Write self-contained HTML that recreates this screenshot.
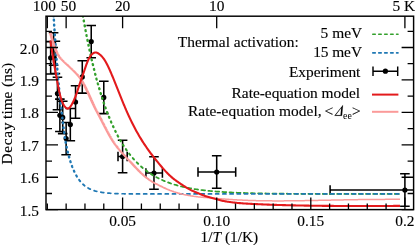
<!DOCTYPE html>
<html><head><meta charset="utf-8"><title>Decay time vs 1/T</title>
<style>html,body{margin:0;padding:0;background:#fff;}body{width:415px;height:245px;overflow:hidden;font-family:"Liberation Serif",serif;}svg{display:block;will-change:transform;}</style></head>
<body>
<svg width="415" height="245" viewBox="0 0 415 245">
<rect width="415" height="245" fill="#fff"/>
<defs><clipPath id="c"><rect x="46" y="16.2" width="367.6" height="193.4"/></clipPath></defs>
<g clip-path="url(#c)" fill="none">
<path d="M50.64 41.6 V74 M45.84 41.6 H55.44 M45.84 74 H55.44 M53.59 32.8 V65.2 M48.79 32.8 H58.39 M48.79 65.2 H58.39 M55.39 41.2 V73.6 M50.59 41.2 H60.19 M50.59 73.6 H60.19 M57.45 77.3 V109.7 M52.65 77.3 H62.25 M52.65 109.7 H62.25 M59.87 99.1 V131.5 M55.07 99.1 H64.67 M55.07 131.5 H64.67 M62.72 101.2 V133.6 M57.92 101.2 H67.52 M57.92 133.6 H67.52 M66.14 122.4 V154.8 M61.34 122.4 H70.94 M61.34 154.8 H70.94 M70.32 108.4 V140.8 M65.52 108.4 H75.12 M65.52 140.8 H75.12 M75.55 85.8 V118.2 M70.75 85.8 H80.35 M70.75 118.2 H80.35 M82.27 60.7 V93.1 M77.47 60.7 H87.07 M77.47 93.1 H87.07 M91.23 25.4 V57.8 M86.43 25.4 H96.03 M86.43 57.8 H96.03 M103.78 81.2 V113.6 M98.98 81.2 H108.58 M98.98 113.6 H108.58 M122.6 140.3 V172.7 M117.8 140.3 H127.4 M117.8 172.7 H127.4 M118 156.5 H127.2 M118 151.7 V161.3 M127.2 151.7 V161.3 M153.97 156.8 V189.2 M149.17 156.8 H158.77 M149.17 189.2 H158.77 M145.9 173 H162.4 M145.9 168.2 V177.8 M162.4 168.2 V177.8 M216.7 155.8 V188.2 M211.9 155.8 H221.5 M211.9 188.2 H221.5 M198 172 H235.7 M198 167.2 V176.8 M235.7 167.2 V176.8 M404.9 173.8 V206.2 M400.1 173.8 H409.7 M400.1 206.2 H409.7 M330.1 190 H430 M330.1 185.2 V194.8 M430 185.2 V194.8" stroke="#000" stroke-width="1.55"/>
<circle cx="50.64" cy="57.8" r="2.6" fill="#000"/>
<circle cx="53.59" cy="49" r="1.4" fill="#000"/>
<circle cx="55.39" cy="57.4" r="1.4" fill="#000"/>
<circle cx="57.45" cy="93.5" r="2.6" fill="#000"/>
<circle cx="59.87" cy="115.3" r="2.6" fill="#000"/>
<circle cx="62.72" cy="117.4" r="2.6" fill="#000"/>
<circle cx="66.14" cy="138.6" r="2.6" fill="#000"/>
<circle cx="70.32" cy="124.6" r="2.6" fill="#000"/>
<circle cx="75.55" cy="102" r="2.6" fill="#000"/>
<circle cx="82.27" cy="76.9" r="2.6" fill="#000"/>
<circle cx="91.23" cy="41.6" r="2.6" fill="#000"/>
<circle cx="103.78" cy="97.4" r="2.6" fill="#000"/>
<circle cx="122.6" cy="156.5" r="2.6" fill="#000"/>
<circle cx="153.97" cy="173" r="2.6" fill="#000"/>
<circle cx="216.7" cy="172" r="2.6" fill="#000"/>
<circle cx="404.9" cy="190" r="2.6" fill="#000"/>
<g stroke-linecap="round">
<path d="M398.75 193.96 L397.65 193.96 L396.35 193.96 L395.05 193.96 L394.75 193.96" stroke="#33a02c" stroke-width="1.7"/>
<path d="M391.55 193.96 L390.49 193.96 L389.19 193.96 L387.89 193.96 L387.55 193.96" stroke="#33a02c" stroke-width="1.7"/>
<path d="M384.35 193.96 L383.33 193.96 L382.03 193.95 L380.73 193.95 L380.35 193.95" stroke="#33a02c" stroke-width="1.7"/>
<path d="M377.15 193.95 L376.18 193.95 L374.88 193.95 L373.57 193.95 L373.15 193.95" stroke="#33a02c" stroke-width="1.7"/>
<path d="M369.95 193.95 L369.02 193.95 L367.72 193.95 L366.42 193.95 L365.95 193.95" stroke="#33a02c" stroke-width="1.7"/>
<path d="M362.75 193.94 L361.86 193.94 L360.56 193.94 L359.26 193.94 L358.75 193.94" stroke="#33a02c" stroke-width="1.7"/>
<path d="M355.55 193.94 L354.71 193.94 L353.41 193.94 L352.1 193.94 L351.56 193.93" stroke="#33a02c" stroke-width="1.7"/>
<path d="M348.35 193.93 L347.55 193.93 L346.25 193.93 L344.95 193.93 L344.36 193.93" stroke="#33a02c" stroke-width="1.7"/>
<path d="M341.16 193.92 L340.39 193.92 L339.09 193.92 L337.79 193.92 L337.16 193.92" stroke="#33a02c" stroke-width="1.7"/>
<path d="M333.96 193.91 L333.24 193.91 L331.93 193.91 L330.63 193.9 L329.96 193.9" stroke="#33a02c" stroke-width="1.7"/>
<path d="M326.76 193.9 L326.08 193.89 L324.78 193.89 L323.48 193.89 L322.77 193.89" stroke="#33a02c" stroke-width="1.7"/>
<path d="M319.56 193.88 L318.27 193.87 L316.97 193.87 L315.67 193.87 L315.57 193.87" stroke="#33a02c" stroke-width="1.7"/>
<path d="M312.37 193.86 L311.11 193.85 L309.81 193.85 L308.51 193.84 L308.38 193.84" stroke="#33a02c" stroke-width="1.7"/>
<path d="M305.17 193.83 L303.96 193.82 L302.66 193.81 L301.36 193.81 L301.19 193.81" stroke="#33a02c" stroke-width="1.7"/>
<path d="M297.98 193.79 L296.8 193.78 L295.5 193.77 L294.2 193.77 L293.99 193.77" stroke="#33a02c" stroke-width="1.7"/>
<path d="M290.79 193.74 L289.64 193.73 L288.34 193.73 L287.04 193.71 L286.81 193.71" stroke="#33a02c" stroke-width="1.7"/>
<path d="M283.6 193.69 L282.49 193.67 L281.19 193.66 L279.88 193.65 L279.62 193.65" stroke="#33a02c" stroke-width="1.7"/>
<path d="M276.41 193.61 L275.33 193.6 L274.03 193.58 L272.73 193.57 L272.44 193.56" stroke="#33a02c" stroke-width="1.7"/>
<path d="M269.23 193.52 L268.17 193.5 L266.87 193.48 L265.57 193.46 L265.27 193.46" stroke="#33a02c" stroke-width="1.7"/>
<path d="M262.05 193.4 L261.02 193.39 L259.72 193.36 L258.41 193.33 L258.1 193.33" stroke="#33a02c" stroke-width="1.71"/>
<path d="M254.87 193.26 L253.86 193.23 L252.56 193.2 L251.26 193.17 L250.94 193.16" stroke="#33a02c" stroke-width="1.71"/>
<path d="M247.71 193.07 L246.7 193.05 L245.4 193.01 L244.1 192.96 L243.79 192.95" stroke="#33a02c" stroke-width="1.71"/>
<path d="M240.55 192.84 L239.55 192.81 L238.24 192.76 L236.94 192.71 L236.65 192.69" stroke="#33a02c" stroke-width="1.71"/>
<path d="M233.41 192.55 L232.39 192.51 L231.09 192.44 L229.79 192.38 L229.54 192.37" stroke="#33a02c" stroke-width="1.71"/>
<path d="M226.28 192.19 L225.23 192.13 L223.93 192.05 L222.63 191.97 L222.44 191.96" stroke="#33a02c" stroke-width="1.72"/>
<path d="M219.18 191.73 L218.08 191.65 L216.77 191.56 L215.47 191.45 L215.38 191.44" stroke="#33a02c" stroke-width="1.72"/>
<path d="M212.1 191.16 L211.57 191.12 L210.92 191.06 L210.27 190.99 L209.62 190.93 L208.97 190.87 L208.35 190.81" stroke="#33a02c" stroke-width="1.73"/>
<path d="M205.06 190.45 L204.41 190.38 L203.76 190.3 L203.11 190.23 L202.46 190.15 L201.81 190.07 L201.38 190.01" stroke="#33a02c" stroke-width="1.73"/>
<path d="M198.07 189.57 L197.26 189.45 L195.95 189.26 L194.65 189.06 L194.48 189.03" stroke="#33a02c" stroke-width="1.74"/>
<path d="M191.15 188.47 L190.75 188.4 L190.1 188.28 L189.45 188.16 L188.8 188.04 L188.15 187.91 L187.68 187.82" stroke="#33a02c" stroke-width="1.75"/>
<path d="M184.32 187.12 L184.24 187.1 L183.59 186.96 L182.94 186.81 L182.29 186.66 L181.64 186.51 L180.99 186.35" stroke="#33a02c" stroke-width="1.76"/>
<path d="M177.62 185.48 L177.09 185.33 L176.44 185.15 L175.78 184.96 L175.13 184.77 L174.48 184.58 L174.45 184.57" stroke="#33a02c" stroke-width="1.77"/>
<path d="M171.08 183.49 L170.58 183.32 L169.93 183.1 L169.28 182.87 L168.63 182.63 L168.11 182.44" stroke="#33a02c" stroke-width="1.79"/>
<path d="M164.75 181.13 L164.72 181.12 L164.07 180.84 L163.42 180.57 L162.77 180.28 L162.12 179.99 L162.03 179.95" stroke="#33a02c" stroke-width="1.81"/>
<path d="M158.69 178.36 L158.22 178.13 L157.57 177.79 L156.92 177.45 L156.27 177.1 L156.26 177.1" stroke="#33a02c" stroke-width="1.84"/>
<path d="M152.98 175.22 L152.36 174.85 L151.71 174.44 L151.06 174.03 L150.83 173.88" stroke="#33a02c" stroke-width="1.87"/>
<path d="M147.65 171.71 L147.16 171.36 L146.51 170.88 L145.86 170.4 L145.78 170.34" stroke="#33a02c" stroke-width="1.9"/>
<path d="M142.71 167.89 L142.6 167.8 L141.95 167.25 L141.3 166.68 L141.09 166.49" stroke="#33a02c" stroke-width="1.92"/>
<path d="M138.16 163.78 L137.81 163.44 L137.43 163.07 L137.06 162.69 L136.75 162.39" stroke="#33a02c" stroke-width="1.95"/>
<path d="M133.96 159.42 L133.74 159.17 L133.43 158.83 L133.13 158.49 L132.83 158.14 L132.79 158.09" stroke="#33a02c" stroke-width="2.01"/>
<path d="M130.17 154.94 L129.96 154.68 L129.73 154.39 L129.51 154.1 L129.28 153.81 L129.19 153.69" stroke="#33a02c" stroke-width="2.08"/>
<path d="M126.73 150.38 L126.56 150.15 L126.34 149.83 L126.11 149.5 L125.91 149.21" stroke="#33a02c" stroke-width="2.14"/>
<path d="M123.61 145.78 L123.47 145.56 L123.32 145.33 L123.17 145.09 L123.02 144.85 L122.91 144.68" stroke="#33a02c" stroke-width="2.19"/>
<path d="M120.76 141.15 L120.68 141.02 L120.53 140.76 L120.38 140.5 L120.22 140.24 L120.15 140.11" stroke="#33a02c" stroke-width="2.23"/>
<path d="M118.13 136.5 L118.04 136.32 L117.88 136.04 L117.73 135.76 L117.6 135.52" stroke="#33a02c" stroke-width="2.26"/>
<path d="M115.7 131.83 L115.62 131.67 L115.47 131.37 L115.32 131.06 L115.24 130.9" stroke="#33a02c" stroke-width="2.29"/>
<path d="M113.44 127.15 L113.36 126.96 L113.2 126.64 L113.05 126.31 L113.03 126.25" stroke="#33a02c" stroke-width="2.31"/>
<path d="M111.33 122.45 L111.32 122.43 L111.24 122.25 L111.17 122.08 L111.09 121.91 L111.02 121.73 L110.95 121.58" stroke="#33a02c" stroke-width="2.33"/>
<path d="M109.34 117.73 L109.28 117.58 L109.2 117.4 L109.13 117.21 L109.05 117.03 L109 116.88" stroke="#33a02c" stroke-width="2.35"/>
<path d="M107.46 112.99 L107.39 112.81 L107.32 112.61 L107.24 112.41 L107.17 112.21 L107.15 112.16" stroke="#33a02c" stroke-width="2.36"/>
<path d="M105.69 108.24 L105.66 108.15 L105.58 107.94 L105.51 107.73 L105.43 107.52 L105.39 107.42" stroke="#33a02c" stroke-width="2.38"/>
<path d="M104 103.47 L104 103.44 L103.92 103.22 L103.85 103 L103.77 102.78 L103.73 102.67" stroke="#33a02c" stroke-width="2.39"/>
<path d="M102.4 98.68 L102.34 98.48 L102.26 98.25 L102.18 98.02 L102.15 97.9" stroke="#33a02c" stroke-width="2.4"/>
<path d="M100.88 93.89 L100.83 93.73 L100.75 93.49 L100.68 93.25 L100.64 93.12" stroke="#33a02c" stroke-width="2.41"/>
<path d="M99.42 89.09 L99.39 89 L99.32 88.75 L99.24 88.49 L99.19 88.33" stroke="#33a02c" stroke-width="2.42"/>
<path d="M98.02 84.28 L97.96 84.05 L97.88 83.78 L97.81 83.52" stroke="#33a02c" stroke-width="2.42"/>
<path d="M96.69 79.46 L96.67 79.42 L96.6 79.14 L96.52 78.87 L96.48 78.71" stroke="#33a02c" stroke-width="2.43"/>
<path d="M95.4 74.64 L95.39 74.6 L95.32 74.31 L95.24 74.02 L95.21 73.9" stroke="#33a02c" stroke-width="2.43"/>
<path d="M94.17 69.81 L94.11 69.57 L94.03 69.27 L93.98 69.08" stroke="#33a02c" stroke-width="2.44"/>
<path d="M92.98 64.97 L92.98 64.96 L92.9 64.65 L92.83 64.33 L92.8 64.25" stroke="#33a02c" stroke-width="2.44"/>
<path d="M91.83 60.14 L91.77 59.85 L91.69 59.53 L91.67 59.41" stroke="#33a02c" stroke-width="2.45"/>
<path d="M90.73 55.29 L90.71 55.22 L90.64 54.88 L90.57 54.58" stroke="#33a02c" stroke-width="2.45"/>
<path d="M89.66 50.45 L89.66 50.43 L89.58 50.08 L89.51 49.73" stroke="#33a02c" stroke-width="2.45"/>
<path d="M88.63 45.6 L88.6 45.47 L88.52 45.11 L88.48 44.89" stroke="#33a02c" stroke-width="2.46"/>
<path d="M87.62 40.74 L87.62 40.71 L87.54 40.34 L87.48 40.04" stroke="#33a02c" stroke-width="2.46"/>
<path d="M86.65 35.89 L86.64 35.8 L86.56 35.41 L86.52 35.19" stroke="#33a02c" stroke-width="2.46"/>
<path d="M85.71 31.03 L85.65 30.73 L85.58 30.33 L85.58 30.33" stroke="#33a02c" stroke-width="2.46"/>
<path d="M84.8 26.17 L84.75 25.9 L84.67 25.5 L84.67 25.47" stroke="#33a02c" stroke-width="2.47"/>
<path d="M83.91 21.31 L83.84 20.94 L83.78 20.61" stroke="#33a02c" stroke-width="2.47"/>
<path d="M83.05 16.44 L83.01 16.26 L82.94 15.83" stroke="#33a02c" stroke-width="2.47"/>
<path d="M398.75 193.97 L398.3 193.97 L397.65 193.97 L397 193.97 L396.35 193.97 L395.7 193.97 L395.65 193.97" stroke="#1f78b4" stroke-width="1.7"/>
<path d="M391.55 193.97 L391.14 193.97 L390.49 193.97 L389.84 193.97 L389.19 193.97 L388.54 193.97 L388.45 193.97" stroke="#1f78b4" stroke-width="1.7"/>
<path d="M384.35 193.97 L383.98 193.97 L383.33 193.97 L382.68 193.97 L382.03 193.97 L381.38 193.97 L381.25 193.97" stroke="#1f78b4" stroke-width="1.7"/>
<path d="M377.15 193.97 L376.83 193.97 L376.18 193.97 L375.53 193.97 L374.88 193.97 L374.23 193.97 L374.05 193.97" stroke="#1f78b4" stroke-width="1.7"/>
<path d="M369.95 193.97 L369.67 193.97 L369.02 193.97 L368.37 193.97 L367.72 193.97 L367.07 193.97 L366.85 193.97" stroke="#1f78b4" stroke-width="1.7"/>
<path d="M362.75 193.97 L362.51 193.97 L361.86 193.97 L361.21 193.97 L360.56 193.97 L359.91 193.97 L359.65 193.97" stroke="#1f78b4" stroke-width="1.7"/>
<path d="M355.55 193.97 L355.36 193.97 L354.71 193.97 L354.06 193.97 L353.41 193.97 L352.75 193.97 L352.45 193.97" stroke="#1f78b4" stroke-width="1.7"/>
<path d="M348.35 193.97 L348.2 193.97 L347.55 193.97 L346.9 193.97 L346.25 193.97 L345.6 193.97 L345.25 193.97" stroke="#1f78b4" stroke-width="1.7"/>
<path d="M341.15 193.97 L341.04 193.97 L340.39 193.97 L339.74 193.97 L339.09 193.97 L338.44 193.97 L338.05 193.97" stroke="#1f78b4" stroke-width="1.7"/>
<path d="M333.95 193.97 L333.89 193.97 L333.24 193.97 L332.59 193.97 L331.93 193.97 L331.28 193.97 L330.85 193.97" stroke="#1f78b4" stroke-width="1.7"/>
<path d="M326.75 193.97 L326.73 193.97 L326.08 193.97 L325.43 193.97 L324.78 193.97 L324.13 193.97 L323.65 193.97" stroke="#1f78b4" stroke-width="1.7"/>
<path d="M319.55 193.97 L318.92 193.97 L318.27 193.97 L317.62 193.97 L316.97 193.97 L316.45 193.97" stroke="#1f78b4" stroke-width="1.7"/>
<path d="M312.35 193.97 L311.77 193.97 L311.11 193.97 L310.46 193.97 L309.81 193.97 L309.25 193.97" stroke="#1f78b4" stroke-width="1.7"/>
<path d="M305.15 193.97 L304.61 193.97 L303.96 193.97 L303.31 193.97 L302.66 193.97 L302.05 193.97" stroke="#1f78b4" stroke-width="1.7"/>
<path d="M297.95 193.97 L297.45 193.97 L296.8 193.97 L296.15 193.97 L295.5 193.97 L294.85 193.97" stroke="#1f78b4" stroke-width="1.7"/>
<path d="M290.75 193.97 L290.29 193.97 L289.64 193.97 L288.99 193.97 L288.34 193.97 L287.69 193.97 L287.65 193.97" stroke="#1f78b4" stroke-width="1.7"/>
<path d="M283.55 193.97 L283.14 193.97 L282.49 193.97 L281.84 193.97 L281.19 193.97 L280.54 193.97 L280.45 193.97" stroke="#1f78b4" stroke-width="1.7"/>
<path d="M276.35 193.97 L275.98 193.97 L275.33 193.97 L274.68 193.97 L274.03 193.97 L273.38 193.97 L273.25 193.97" stroke="#1f78b4" stroke-width="1.7"/>
<path d="M269.15 193.97 L268.82 193.97 L268.17 193.97 L267.52 193.97 L266.87 193.97 L266.22 193.97 L266.05 193.97" stroke="#1f78b4" stroke-width="1.7"/>
<path d="M261.95 193.97 L261.67 193.97 L261.02 193.97 L260.37 193.97 L259.72 193.97 L259.06 193.97 L258.85 193.97" stroke="#1f78b4" stroke-width="1.7"/>
<path d="M254.75 193.97 L254.51 193.97 L253.86 193.97 L253.21 193.97 L252.56 193.97 L251.91 193.97 L251.65 193.97" stroke="#1f78b4" stroke-width="1.7"/>
<path d="M247.55 193.97 L247.35 193.97 L246.7 193.97 L246.05 193.97 L245.4 193.97 L244.75 193.97 L244.45 193.97" stroke="#1f78b4" stroke-width="1.7"/>
<path d="M240.35 193.97 L240.2 193.97 L239.55 193.97 L238.9 193.97 L238.24 193.97 L237.59 193.97 L237.25 193.97" stroke="#1f78b4" stroke-width="1.7"/>
<path d="M233.15 193.97 L233.04 193.97 L232.39 193.97 L231.74 193.97 L231.09 193.97 L230.44 193.97 L230.05 193.97" stroke="#1f78b4" stroke-width="1.7"/>
<path d="M225.95 193.97 L225.88 193.97 L225.23 193.97 L224.58 193.97 L223.93 193.97 L223.28 193.97 L222.85 193.97" stroke="#1f78b4" stroke-width="1.7"/>
<path d="M218.75 193.97 L218.73 193.97 L218.08 193.97 L217.42 193.97 L216.77 193.97 L216.12 193.97 L215.65 193.97" stroke="#1f78b4" stroke-width="1.7"/>
<path d="M211.55 193.97 L210.92 193.97 L210.27 193.97 L209.62 193.97 L208.97 193.97 L208.45 193.97" stroke="#1f78b4" stroke-width="1.7"/>
<path d="M204.35 193.97 L203.76 193.97 L203.11 193.97 L202.46 193.97 L201.81 193.97 L201.25 193.97" stroke="#1f78b4" stroke-width="1.7"/>
<path d="M197.15 193.97 L196.6 193.97 L195.95 193.97 L195.3 193.97 L194.65 193.97 L194.05 193.97" stroke="#1f78b4" stroke-width="1.7"/>
<path d="M189.95 193.97 L189.45 193.97 L188.8 193.97 L188.15 193.97 L187.5 193.97 L186.85 193.97" stroke="#1f78b4" stroke-width="1.7"/>
<path d="M182.75 193.97 L182.29 193.97 L181.64 193.97 L180.99 193.97 L180.34 193.97 L179.69 193.97 L179.65 193.97" stroke="#1f78b4" stroke-width="1.7"/>
<path d="M175.55 193.97 L175.13 193.97 L174.48 193.97 L173.83 193.97 L173.18 193.96 L172.53 193.96 L172.45 193.96" stroke="#1f78b4" stroke-width="1.7"/>
<path d="M168.35 193.96 L167.98 193.96 L167.33 193.96 L166.68 193.96 L166.03 193.96 L165.37 193.96 L165.25 193.96" stroke="#1f78b4" stroke-width="1.7"/>
<path d="M161.15 193.96 L160.82 193.96 L160.17 193.96 L159.52 193.96 L158.87 193.96 L158.22 193.96 L158.05 193.96" stroke="#1f78b4" stroke-width="1.7"/>
<path d="M153.95 193.96 L153.66 193.96 L153.01 193.96 L152.36 193.95 L151.71 193.95 L151.06 193.95 L150.85 193.95" stroke="#1f78b4" stroke-width="1.7"/>
<path d="M146.75 193.95 L146.51 193.95 L145.86 193.94 L145.21 193.94 L144.55 193.94 L143.9 193.94 L143.66 193.94" stroke="#1f78b4" stroke-width="1.7"/>
<path d="M139.56 193.92 L138.87 193.92 L138.11 193.92 L137.36 193.91 L136.6 193.91 L136.46 193.91" stroke="#1f78b4" stroke-width="1.7"/>
<path d="M132.36 193.88 L131.62 193.88 L130.87 193.87 L130.11 193.86 L129.36 193.85 L129.27 193.85" stroke="#1f78b4" stroke-width="1.7"/>
<path d="M125.17 193.8 L124.45 193.79 L123.7 193.77 L122.94 193.76 L122.19 193.74 L122.09 193.74" stroke="#1f78b4" stroke-width="1.7"/>
<path d="M117.99 193.63 L117.28 193.61 L116.53 193.58 L115.77 193.55 L115.02 193.52 L114.94 193.52" stroke="#1f78b4" stroke-width="1.71"/>
<path d="M110.84 193.3 L110.11 193.25 L109.36 193.2 L108.6 193.14 L107.85 193.08 L107.83 193.08" stroke="#1f78b4" stroke-width="1.72"/>
<path d="M103.75 192.65 L103.02 192.55 L102.26 192.45 L101.51 192.33 L100.84 192.23" stroke="#1f78b4" stroke-width="1.73"/>
<path d="M96.81 191.4 L96.15 191.23 L95.47 191.05 L94.79 190.85 L94.13 190.65" stroke="#1f78b4" stroke-width="1.76"/>
<path d="M90.29 189.16 L89.73 188.9 L89.13 188.6 L88.52 188.27 L88.05 188.01" stroke="#1f78b4" stroke-width="1.82"/>
<path d="M84.63 185.69 L84.22 185.36 L83.77 184.97 L83.31 184.57 L83.01 184.29" stroke="#1f78b4" stroke-width="1.91"/>
<path d="M80.19 181.27 L79.92 180.94 L79.62 180.56 L79.31 180.16 L79.15 179.94" stroke="#1f78b4" stroke-width="2.05"/>
<path d="M76.85 176.48 L76.75 176.3 L76.6 176.04 L76.45 175.78 L76.3 175.51 L76.23 175.4" stroke="#1f78b4" stroke-width="2.21"/>
<path d="M74.33 171.68 L74.26 171.52 L74.11 171.19 L73.96 170.86 L73.92 170.77" stroke="#1f78b4" stroke-width="2.3"/>
<path d="M72.32 166.91 L72.29 166.86 L72.22 166.66 L72.14 166.46 L72.07 166.26 L72 166.07" stroke="#1f78b4" stroke-width="2.36"/>
<path d="M70.62 162.11 L70.56 161.93 L70.48 161.7 L70.41 161.46 L70.36 161.32" stroke="#1f78b4" stroke-width="2.4"/>
<path d="M69.15 157.29 L69.12 157.19 L69.05 156.92 L68.97 156.65 L68.94 156.53" stroke="#1f78b4" stroke-width="2.42"/>
<path d="M67.86 152.45 L67.84 152.36 L67.77 152.06 L67.69 151.75 L67.68 151.71" stroke="#1f78b4" stroke-width="2.44"/>
<path d="M66.72 147.59 L66.72 147.58 L66.65 147.24 L66.57 146.9 L66.57 146.88" stroke="#1f78b4" stroke-width="2.45"/>
<path d="M65.75 142.72 L65.73 142.61 L65.67 142.24 L65.63 142.02" stroke="#1f78b4" stroke-width="2.47"/>
<path d="M64.93 137.85 L64.88 137.53 L64.82 137.16" stroke="#1f78b4" stroke-width="2.47"/>
<path d="M64.21 132.96 L64.2 132.84 L64.14 132.39 L64.12 132.29" stroke="#1f78b4" stroke-width="2.48"/>
<path d="M63.58 128.08 L63.54 127.76 L63.49 127.41" stroke="#1f78b4" stroke-width="2.48"/>
<path d="M62.99 123.19 L62.94 122.77 L62.91 122.52" stroke="#1f78b4" stroke-width="2.49"/>
<path d="M62.42 118.31 L62.38 117.97 L62.35 117.64" stroke="#1f78b4" stroke-width="2.49"/>
<path d="M61.85 113.42 L61.85 113.42 L61.78 112.84 L61.77 112.76" stroke="#1f78b4" stroke-width="2.49"/>
<path d="M61.26 108.54 L61.19 107.98 L61.18 107.87" stroke="#1f78b4" stroke-width="2.49"/>
<path d="M60.68 103.66 L60.67 103.5 L60.61 102.99" stroke="#1f78b4" stroke-width="2.49"/>
<path d="M60.14 98.77 L60.06 98.11" stroke="#1f78b4" stroke-width="2.49"/>
<path d="M59.61 93.88 L59.61 93.83 L59.55 93.22" stroke="#1f78b4" stroke-width="2.49"/>
<path d="M59.12 89 L59.08 88.61 L59.05 88.33" stroke="#1f78b4" stroke-width="2.49"/>
<path d="M58.65 84.11 L58.63 83.91 L58.58 83.44" stroke="#1f78b4" stroke-width="2.49"/>
<path d="M58.19 79.22 L58.17 79.02 L58.13 78.55" stroke="#1f78b4" stroke-width="2.49"/>
<path d="M57.76 74.32 L57.72 73.9 L57.7 73.66" stroke="#1f78b4" stroke-width="2.49"/>
<path d="M57.34 69.43 L57.29 68.77" stroke="#1f78b4" stroke-width="2.49"/>
<path d="M56.94 64.54 L56.89 63.92 L56.89 63.88" stroke="#1f78b4" stroke-width="2.49"/>
<path d="M56.56 59.65 L56.51 59.11 L56.5 58.99" stroke="#1f78b4" stroke-width="2.49"/>
<path d="M56.18 54.75 L56.14 54.13 L56.13 54.09" stroke="#1f78b4" stroke-width="2.49"/>
<path d="M55.82 49.86 L55.78 49.2" stroke="#1f78b4" stroke-width="2.49"/>
<path d="M55.48 44.96 L55.46 44.68 L55.43 44.31" stroke="#1f78b4" stroke-width="2.5"/>
<path d="M55.14 40.07 L55.1 39.41" stroke="#1f78b4" stroke-width="2.5"/>
<path d="M54.82 35.17 L54.78 34.61 L54.77 34.52" stroke="#1f78b4" stroke-width="2.5"/>
<path d="M54.5 30.28 L54.48 29.91 L54.46 29.62" stroke="#1f78b4" stroke-width="2.5"/>
<path d="M54.19 25.38 L54.17 25.08 L54.15 24.73" stroke="#1f78b4" stroke-width="2.5"/>
<path d="M53.9 20.49 L53.87 20.1 L53.86 19.83" stroke="#1f78b4" stroke-width="2.5"/>
<path d="M53.65 16.27 L53.65 16.27" stroke="#1f78b4" stroke-width="2.5"/>
</g>
<g transform="scale(1.9 1)"><path d="M26.47 32.8 L26.58 33.54 L26.68 34.28 L26.79 35.01 L26.89 35.74 L27 36.47 L27.1 37.19 L27.21 37.9 L27.31 38.61 L27.42 39.31 L27.52 39.99 L27.63 40.67 L27.74 41.33 L27.84 41.98 L27.95 42.62 L28.05 43.24 L28.16 43.86 L28.26 44.46 L28.37 45.05 L28.47 45.62 L28.58 46.19 L28.68 46.74 L28.79 47.27 L28.89 47.8 L29 48.31 L29.1 48.81 L29.21 49.3 L29.31 49.78 L29.42 50.25 L29.52 50.7 L29.63 51.15 L29.73 51.58 L29.84 52.01 L29.94 52.42 L30.05 52.82 L30.15 53.22 L30.26 53.6 L30.36 53.97 L30.47 54.33 L30.57 54.68 L30.68 55.02 L30.78 55.35 L30.89 55.67 L30.99 55.98 L31.1 56.28 L31.2 56.57 L31.31 56.85 L31.41 57.12 L31.52 57.39 L31.63 57.64 L31.73 57.89 L31.84 58.13 L31.94 58.36 L32.05 58.59 L32.15 58.82 L32.26 59.04 L32.36 59.26 L32.47 59.47 L32.57 59.68 L32.68 59.89 L32.78 60.1 L32.89 60.3 L32.99 60.5 L33.1 60.7 L33.2 60.9 L33.31 61.1 L33.41 61.3 L33.52 61.5 L33.62 61.69 L33.73 61.88 L33.83 62.08 L33.94 62.27 L34.04 62.46 L34.15 62.65 L34.25 62.84 L34.36 63.03 L34.46 63.21 L34.57 63.4 L34.67 63.59 L34.78 63.77 L34.88 63.96 L34.99 64.15 L35.09 64.33 L35.2 64.52 L35.3 64.7 L35.41 64.89 L35.51 65.07 L35.62 65.26 L35.73 65.44 L35.83 65.63 L35.94 65.81 L36.04 65.99 L36.15 66.18 L36.25 66.36 L36.36 66.55 L36.46 66.73 L36.57 66.92 L36.67 67.1 L36.78 67.28 L36.88 67.47 L36.99 67.65 L37.09 67.84 L37.2 68.03 L37.3 68.21 L37.41 68.4 L37.51 68.58 L37.62 68.77 L37.72 68.96 L37.83 69.15 L37.93 69.34 L38.04 69.53 L38.14 69.72 L38.25 69.91 L38.35 70.1 L38.46 70.29 L38.56 70.48 L38.67 70.68 L38.77 70.88 L38.88 71.07 L38.98 71.27 L39.09 71.47 L39.19 71.67 L39.3 71.87 L39.4 72.07 L39.51 72.28 L39.62 72.48 L39.72 72.69 L39.83 72.9 L39.93 73.11 L40.04 73.32 L40.14 73.54 L40.25 73.75 L40.35 73.97 L40.46 74.19 L40.56 74.41 L40.67 74.64 L40.77 74.86 L40.88 75.09 L40.98 75.32 L41.09 75.55 L41.19 75.79 L41.3 76.03 L41.4 76.27 L41.51 76.52 L41.61 76.77 L41.72 77.02 L41.82 77.28 L41.93 77.55 L42.03 77.81 L42.14 78.09 L42.24 78.36 L42.35 78.65 L42.45 78.94 L42.56 79.23 L42.66 79.53 L42.77 79.83 L42.87 80.14 L42.98 80.46 L43.08 80.78 L43.19 81.1 L43.29 81.43 L43.4 81.77 L43.5 82.11 L43.61 82.46 L43.72 82.81 L43.82 83.17 L43.93 83.53 L44.03 83.89 L44.14 84.27 L44.24 84.64 L44.35 85.02 L44.45 85.4 L44.56 85.79 L44.66 86.18 L44.77 86.58 L44.87 86.97 L44.98 87.38 L45.08 87.78 L45.19 88.19 L45.29 88.6 L45.4 89.01 L45.5 89.43 L45.61 89.85 L45.71 90.27 L45.82 90.69 L45.92 91.12 L46.03 91.54 L46.13 91.97 L46.24 92.4 L46.34 92.84 L46.45 93.27 L46.55 93.7 L46.66 94.14 L46.76 94.58 L46.87 95.02 L46.97 95.45 L47.08 95.89 L47.18 96.33 L47.29 96.77 L47.39 97.21 L47.5 97.65 L47.61 98.09 L47.71 98.53 L47.82 98.97 L47.92 99.41 L48.03 99.84 L48.13 100.28 L48.24 100.72 L48.34 101.15 L48.45 101.59 L48.55 102.02 L48.66 102.45 L48.76 102.88 L48.87 103.31 L48.97 103.74 L49.08 104.16 L49.18 104.59 L49.29 105.01 L49.39 105.43 L49.5 105.84 L49.6 106.26 L49.71 106.67 L49.81 107.08 L49.92 107.49 L50.02 107.89 L50.13 108.29 L50.23 108.69 L50.34 109.08 L50.44 109.48 L50.55 109.87 L50.65 110.25 L50.76 110.63 L50.86 111.02 L50.97 111.4 L51.07 111.77 L51.18 112.15 L51.28 112.52 L51.39 112.9 L51.49 113.27 L51.6 113.64 L51.71 114.02 L51.81 114.39 L51.92 114.76 L52.02 115.13 L52.13 115.51 L52.23 115.88 L52.34 116.26 L52.44 116.64 L52.55 117.02 L52.65 117.4 L52.76 117.78 L52.86 118.16 L52.97 118.55 L53.07 118.93 L53.18 119.32 L53.28 119.7 L53.39 120.09 L53.49 120.48 L53.6 120.86 L53.7 121.25 L53.81 121.64 L53.91 122.03 L54.02 122.42 L54.12 122.81 L54.23 123.2 L54.33 123.59 L54.44 123.98 L54.54 124.37 L54.65 124.76 L54.75 125.15 L54.86 125.53 L54.96 125.92 L55.07 126.31 L55.17 126.7 L55.28 127.09 L55.38 127.47 L55.49 127.86 L55.6 128.24 L55.7 128.63 L55.81 129.01 L55.91 129.39 L56.02 129.77 L56.12 130.15 L56.23 130.53 L56.33 130.91 L56.44 131.28 L56.54 131.66 L56.65 132.03 L56.75 132.4 L56.86 132.77 L56.96 133.14 L57.07 133.51 L57.17 133.87 L57.28 134.24 L57.38 134.6 L57.49 134.95 L57.59 135.31 L57.7 135.66 L57.8 136.02 L57.91 136.37 L58.01 136.71 L58.12 137.06 L58.22 137.4 L58.33 137.74 L58.43 138.08 L58.54 138.41 L58.64 138.74 L58.75 139.07 L58.85 139.39 L58.96 139.72 L59.06 140.04 L59.17 140.35 L59.27 140.66 L59.38 140.97 L59.48 141.28 L59.59 141.58 L59.7 141.88 L59.8 142.18 L59.91 142.48 L60.01 142.77 L60.12 143.06 L60.22 143.35 L60.33 143.63 L60.43 143.91 L60.54 144.19 L60.64 144.47 L60.75 144.74 L60.85 145.01 L60.96 145.28 L61.06 145.55 L61.17 145.81 L61.27 146.07 L61.38 146.34 L61.48 146.59 L61.59 146.85 L61.69 147.1 L61.8 147.36 L61.9 147.61 L62.01 147.85 L62.11 148.1 L62.22 148.35 L62.32 148.59 L62.43 148.83 L62.53 149.07 L62.64 149.31 L62.74 149.55 L62.85 149.78 L62.95 150.02 L63.06 150.25 L63.16 150.48 L63.27 150.71 L63.37 150.94 L63.48 151.17 L63.59 151.39 L63.69 151.62 L63.8 151.84 L63.9 152.07 L64.01 152.29 L64.11 152.51 L64.22 152.73 L64.32 152.96 L64.43 153.17 L64.53 153.39 L64.64 153.61 L64.74 153.83 L64.85 154.05 L64.95 154.26 L65.06 154.48 L65.16 154.7 L65.27 154.91 L65.37 155.13 L65.48 155.34 L65.58 155.56 L65.69 155.77 L65.79 155.99 L65.9 156.2 L66 156.42 L66.11 156.63 L66.21 156.85 L66.32 157.06 L66.42 157.28 L66.53 157.5 L66.63 157.71 L66.74 157.93 L66.84 158.15 L66.95 158.36 L67.05 158.58 L67.16 158.8 L67.26 159.02 L67.37 159.24 L67.47 159.45 L67.58 159.67 L67.69 159.89 L67.79 160.11 L67.9 160.33 L68 160.55 L68.11 160.77 L68.21 160.99 L68.32 161.21 L68.42 161.43 L68.9 162.42 L69.37 163.41 L69.85 164.4 L70.32 165.38 L70.8 166.35 L71.27 167.31 L71.75 168.27 L72.22 169.21 L72.7 170.13 L73.17 171.04 L73.65 171.93 L74.12 172.81 L74.6 173.65 L75.07 174.48 L75.55 175.29 L76.03 176.07 L76.5 176.82 L76.98 177.55 L77.45 178.26 L77.93 178.94 L78.4 179.59 L78.88 180.21 L79.35 180.8 L79.83 181.37 L80.3 181.91 L80.78 182.43 L81.25 182.93 L81.73 183.42 L82.2 183.89 L82.68 184.35 L83.15 184.81 L83.63 185.25 L84.1 185.7 L84.58 186.15 L85.06 186.59 L85.53 187.04 L86.01 187.47 L86.48 187.9 L86.96 188.33 L87.43 188.74 L87.91 189.14 L88.38 189.52 L88.86 189.89 L89.33 190.25 L89.81 190.59 L90.28 190.92 L90.76 191.24 L91.23 191.55 L91.71 191.85 L92.18 192.15 L92.66 192.43 L93.14 192.71 L93.61 192.98 L94.09 193.24 L94.56 193.5 L95.04 193.74 L95.51 193.97 L95.99 194.19 L96.46 194.4 L96.94 194.6 L97.41 194.79 L97.89 194.97 L98.36 195.15 L98.84 195.31 L99.31 195.48 L99.79 195.63 L100.26 195.79 L100.74 195.94 L101.21 196.08 L101.69 196.22 L102.17 196.35 L102.64 196.47 L103.12 196.59 L103.59 196.7 L104.07 196.81 L104.54 196.9 L105.02 196.99 L105.49 197.08 L105.97 197.16 L106.44 197.24 L106.92 197.32 L107.39 197.4 L107.87 197.47 L108.34 197.55 L108.82 197.63 L109.29 197.71 L109.77 197.79 L110.24 197.86 L110.72 197.94 L111.2 198.02 L111.67 198.1 L112.15 198.17 L112.62 198.25 L113.1 198.33 L113.57 198.4 L114.05 198.47 L114.52 198.55 L115 198.62 L115.47 198.69 L115.95 198.76 L116.42 198.83 L116.9 198.9 L117.37 198.96 L117.85 199.03 L118.32 199.09 L118.8 199.16 L119.27 199.22 L119.75 199.28 L120.23 199.34 L120.7 199.4 L121.18 199.46 L121.65 199.52 L122.13 199.57 L122.6 199.63 L123.08 199.68 L123.55 199.73 L124.03 199.78 L124.5 199.83 L124.98 199.88 L125.45 199.93 L125.93 199.98 L126.4 200.02 L126.88 200.07 L127.35 200.11 L127.83 200.15 L128.3 200.19 L128.78 200.23 L129.26 200.27 L129.73 200.31 L130.21 200.34 L130.68 200.38 L131.16 200.41 L131.63 200.44 L132.11 200.48 L132.58 200.51 L133.06 200.54 L133.53 200.56 L134.01 200.59 L134.48 200.61 L134.96 200.64 L135.43 200.66 L135.91 200.68 L136.38 200.7 L136.86 200.72 L137.33 200.74 L137.81 200.76 L138.29 200.77 L138.76 200.79 L139.24 200.8 L139.71 200.81 L140.19 200.83 L140.66 200.84 L141.14 200.85 L141.61 200.85 L142.09 200.86 L142.56 200.87 L143.04 200.87 L143.51 200.88 L143.99 200.88 L144.46 200.89 L144.94 200.89 L145.41 200.89 L145.89 200.89 L146.37 200.89 L146.84 200.89 L147.32 200.89 L147.79 200.89 L148.27 200.88 L148.74 200.88 L149.22 200.88 L149.69 200.87 L150.17 200.87 L150.64 200.86 L151.12 200.85 L151.59 200.84 L152.07 200.84 L152.54 200.83 L153.02 200.82 L153.49 200.81 L153.97 200.8 L154.44 200.79 L154.92 200.78 L155.4 200.77 L155.87 200.75 L156.35 200.74 L156.82 200.73 L157.3 200.72 L157.77 200.7 L158.25 200.69 L158.72 200.68 L159.2 200.66 L159.67 200.65 L160.15 200.63 L160.62 200.62 L161.1 200.6 L161.57 200.59 L162.05 200.57 L162.52 200.55 L163 200.54 L163.47 200.52 L163.95 200.51 L164.43 200.49 L164.9 200.47 L165.38 200.45 L165.85 200.44 L166.33 200.42 L166.8 200.4 L167.28 200.38 L167.75 200.37 L168.23 200.35 L168.7 200.33 L169.18 200.31 L169.65 200.29 L170.13 200.28 L170.6 200.26 L171.08 200.24 L171.55 200.22 L172.03 200.2 L172.5 200.18 L172.98 200.17 L173.46 200.15 L173.93 200.13 L174.41 200.11 L174.88 200.09 L175.36 200.07 L175.83 200.06 L176.31 200.04 L176.78 200.02 L177.26 200 L177.73 199.98 L178.21 199.96 L178.68 199.95 L179.16 199.93 L179.63 199.91 L180.11 199.9 L180.58 199.88 L181.06 199.86 L181.53 199.84 L182.01 199.83 L182.49 199.81 L182.96 199.8 L183.44 199.78 L183.91 199.76 L184.39 199.75 L184.86 199.73 L185.34 199.72 L185.81 199.7 L186.29 199.69 L186.76 199.67 L187.24 199.66 L187.71 199.65 L188.19 199.63 L188.66 199.62 L189.14 199.61 L189.61 199.6 L190.09 199.58 L190.57 199.57 L191.04 199.56 L191.52 199.55 L191.99 199.54 L192.47 199.53 L192.94 199.52 L193.42 199.51 L193.89 199.5 L194.37 199.49 L194.84 199.48 L195.32 199.48 L195.79 199.47 L196.27 199.46 L196.74 199.45 L197.22 199.44 L197.69 199.44 L198.17 199.43 L198.64 199.42 L199.12 199.42 L199.6 199.41 L200.07 199.4 L200.55 199.4 L201.02 199.39 L201.5 199.39 L201.97 199.38 L202.45 199.38 L202.92 199.37 L203.4 199.37 L203.87 199.36 L204.35 199.36 L204.82 199.35 L205.3 199.35 L205.77 199.34 L206.25 199.34 L206.72 199.33 L207.2 199.33 L207.67 199.32 L208.15 199.32 L208.63 199.32 L209.1 199.31 L209.58 199.31 L210.05 199.3 L210.53 199.3" stroke="#fb9a99" stroke-width="1.5" stroke-linejoin="round"/></g>
<path d="M50.3 40.5 L50.5 41.72 L50.7 42.93 L50.9 44.16 L51.1 45.38 L51.3 46.62 L51.5 47.86 L51.7 49.12 L51.9 50.39 L52.1 51.66 L52.3 52.93 L52.5 54.21 L52.7 55.48 L52.9 56.73 L53.1 57.98 L53.3 59.2 L53.5 60.41 L53.7 61.61 L53.9 62.79 L54.1 63.96 L54.29 65.11 L54.49 66.26 L54.69 67.4 L54.89 68.53 L55.09 69.66 L55.29 70.78 L55.49 71.9 L55.69 73.01 L55.89 74.12 L56.09 75.22 L56.29 76.32 L56.49 77.41 L56.69 78.5 L56.89 79.59 L57.09 80.67 L57.29 81.74 L57.49 82.81 L57.69 83.86 L57.89 84.9 L58.09 85.93 L58.29 86.95 L58.49 87.95 L58.69 88.93 L58.89 89.9 L59.09 90.84 L59.29 91.76 L59.49 92.65 L59.69 93.52 L59.89 94.36 L60.09 95.17 L60.29 95.95 L60.49 96.7 L60.69 97.41 L60.89 98.09 L61.09 98.74 L61.29 99.36 L61.49 99.95 L61.69 100.52 L61.89 101.05 L62.09 101.57 L62.28 102.05 L62.48 102.52 L62.68 102.96 L62.88 103.38 L63.08 103.78 L63.28 104.16 L63.48 104.52 L63.68 104.86 L63.88 105.19 L64.08 105.5 L64.28 105.79 L64.48 106.08 L64.68 106.34 L64.88 106.59 L65.08 106.83 L65.28 107.06 L65.48 107.28 L65.68 107.49 L65.88 107.68 L66.08 107.86 L66.28 108.03 L66.48 108.18 L66.68 108.3 L66.88 108.41 L67.08 108.5 L67.28 108.56 L67.48 108.6 L67.68 108.61 L67.88 108.59 L68.08 108.55 L68.28 108.48 L68.48 108.39 L68.68 108.27 L68.88 108.14 L69.08 107.99 L69.28 107.82 L69.48 107.63 L69.68 107.42 L69.88 107.2 L70.08 106.96 L70.27 106.71 L70.47 106.45 L70.67 106.17 L70.87 105.89 L71.07 105.58 L71.27 105.27 L71.47 104.95 L71.67 104.61 L71.87 104.27 L72.07 103.91 L72.27 103.55 L72.47 103.18 L72.67 102.8 L72.87 102.41 L73.07 102.01 L73.27 101.61 L73.47 101.19 L73.67 100.77 L73.87 100.33 L74.07 99.89 L74.27 99.44 L74.47 98.98 L74.67 98.51 L74.87 98.02 L75.07 97.53 L75.27 97.03 L75.47 96.52 L75.67 96 L75.87 95.47 L76.07 94.93 L76.27 94.37 L76.47 93.81 L76.67 93.24 L76.87 92.65 L77.07 92.06 L77.27 91.46 L77.47 90.86 L77.67 90.24 L77.87 89.63 L78.07 89.01 L78.26 88.38 L78.46 87.76 L78.66 87.13 L78.86 86.51 L79.06 85.88 L79.26 85.26 L79.46 84.64 L79.66 84.03 L79.86 83.42 L80.06 82.81 L80.26 82.21 L80.46 81.62 L80.66 81.03 L80.86 80.45 L81.06 79.87 L81.26 79.29 L81.46 78.72 L81.66 78.15 L81.86 77.58 L82.06 77.02 L82.26 76.45 L82.46 75.89 L82.66 75.32 L82.86 74.76 L83.06 74.19 L83.26 73.63 L83.46 73.06 L83.66 72.49 L83.86 71.91 L84.06 71.33 L84.26 70.75 L84.46 70.17 L84.66 69.58 L84.86 68.99 L85.06 68.41 L85.26 67.82 L85.46 67.24 L85.66 66.66 L85.86 66.09 L86.06 65.52 L86.25 64.96 L86.45 64.41 L86.65 63.87 L86.85 63.34 L87.05 62.82 L87.25 62.31 L87.45 61.81 L87.65 61.33 L87.85 60.87 L88.05 60.42 L88.25 59.98 L88.45 59.56 L88.65 59.15 L88.85 58.75 L89.05 58.37 L89.25 58 L89.45 57.65 L89.65 57.31 L89.85 56.98 L90.05 56.66 L90.25 56.36 L90.45 56.07 L90.65 55.79 L90.85 55.53 L91.05 55.27 L91.25 55.03 L91.45 54.8 L91.65 54.58 L91.85 54.38 L92.05 54.18 L92.25 54 L92.45 53.82 L92.65 53.66 L92.85 53.51 L93.05 53.36 L93.25 53.23 L93.45 53.11 L93.65 53 L93.85 52.9 L94.05 52.81 L94.24 52.73 L94.44 52.66 L94.64 52.61 L94.84 52.56 L95.04 52.52 L95.24 52.5 L95.44 52.49 L95.64 52.49 L95.84 52.5 L96.04 52.52 L96.24 52.55 L96.44 52.59 L96.64 52.65 L96.84 52.71 L97.04 52.78 L97.24 52.87 L97.44 52.96 L97.64 53.06 L97.84 53.16 L98.04 53.27 L98.24 53.39 L98.44 53.52 L98.64 53.65 L98.84 53.79 L99.04 53.93 L99.24 54.07 L99.44 54.22 L99.64 54.38 L99.84 54.53 L100.04 54.7 L100.24 54.86 L100.44 55.04 L100.64 55.22 L100.84 55.4 L101.04 55.59 L101.24 55.78 L101.44 55.98 L101.64 56.19 L101.84 56.4 L102.04 56.62 L102.23 56.84 L102.43 57.07 L102.63 57.31 L102.83 57.55 L103.03 57.8 L103.23 58.06 L103.43 58.32 L103.63 58.59 L103.83 58.87 L104.03 59.15 L104.23 59.45 L104.43 59.75 L104.63 60.06 L104.83 60.37 L105.03 60.69 L105.23 61.02 L105.43 61.36 L105.63 61.7 L105.83 62.05 L106.03 62.41 L106.23 62.77 L106.43 63.14 L106.63 63.51 L106.83 63.89 L107.03 64.28 L107.23 64.67 L107.43 65.06 L107.63 65.47 L107.83 65.87 L108.03 66.28 L108.23 66.7 L108.43 67.12 L108.63 67.54 L108.83 67.97 L109.03 68.41 L109.23 68.84 L109.43 69.28 L109.63 69.73 L109.83 70.18 L110.03 70.63 L110.22 71.08 L110.42 71.54 L110.62 72 L110.82 72.46 L111.02 72.93 L111.22 73.4 L111.42 73.87 L111.62 74.34 L111.82 74.82 L112.02 75.29 L112.22 75.77 L112.42 76.25 L112.62 76.73 L112.82 77.21 L113.02 77.7 L113.22 78.18 L113.42 78.67 L113.62 79.16 L113.82 79.65 L114.02 80.14 L114.22 80.63 L114.42 81.13 L114.62 81.62 L114.82 82.12 L115.02 82.61 L115.22 83.11 L115.42 83.61 L115.62 84.11 L115.82 84.6 L116.02 85.1 L116.22 85.61 L116.42 86.11 L116.62 86.61 L116.82 87.11 L117.02 87.61 L117.22 88.12 L117.42 88.62 L117.62 89.12 L117.82 89.63 L118.02 90.13 L118.21 90.63 L118.41 91.14 L118.61 91.64 L118.81 92.14 L119.01 92.65 L119.21 93.15 L119.41 93.65 L119.61 94.15 L119.81 94.66 L120.01 95.16 L120.21 95.66 L120.41 96.16 L120.61 96.66 L120.81 97.16 L121.01 97.65 L121.21 98.15 L121.41 98.65 L121.61 99.14 L121.81 99.64 L122.01 100.13 L122.21 100.63 L122.41 101.12 L122.61 101.61 L122.81 102.1 L123.01 102.58 L123.21 103.07 L123.41 103.55 L123.61 104.04 L123.81 104.52 L124.01 105 L124.21 105.48 L124.41 105.96 L124.61 106.43 L124.81 106.91 L125.01 107.38 L125.21 107.85 L125.41 108.31 L125.61 108.78 L125.81 109.24 L126.01 109.71 L126.2 110.17 L126.4 110.62 L126.6 111.08 L126.8 111.53 L127 111.98 L127.2 112.43 L127.4 112.88 L127.6 113.32 L127.8 113.77 L128 114.21 L128.2 114.65 L128.4 115.08 L128.6 115.52 L128.8 115.95 L129 116.38 L129.2 116.81 L129.4 117.24 L129.6 117.66 L129.8 118.09 L130 118.51 L130.9 120.39 L131.81 122.23 L132.71 124.03 L133.61 125.8 L134.52 127.53 L135.42 129.22 L136.32 130.88 L137.22 132.5 L138.13 134.09 L139.03 135.65 L139.93 137.18 L140.84 138.67 L141.74 140.13 L142.64 141.57 L143.55 142.97 L144.45 144.35 L145.35 145.7 L146.25 147.02 L147.16 148.32 L148.06 149.6 L148.96 150.85 L149.87 152.09 L150.77 153.3 L151.67 154.5 L152.58 155.68 L153.48 156.84 L154.38 157.99 L155.28 159.13 L156.19 160.25 L157.09 161.36 L157.99 162.46 L158.9 163.56 L159.8 164.64 L160.7 165.72 L161.61 166.78 L162.51 167.83 L163.41 168.86 L164.31 169.88 L165.22 170.87 L166.12 171.85 L167.02 172.8 L167.93 173.72 L168.83 174.62 L169.73 175.48 L170.64 176.32 L171.54 177.12 L172.44 177.89 L173.34 178.62 L174.25 179.33 L175.15 180.02 L176.05 180.68 L176.96 181.32 L177.86 181.94 L178.76 182.56 L179.67 183.16 L180.57 183.76 L181.47 184.35 L182.37 184.95 L183.28 185.54 L184.18 186.13 L185.08 186.71 L185.99 187.29 L186.89 187.85 L187.79 188.39 L188.7 188.91 L189.6 189.41 L190.5 189.88 L191.4 190.33 L192.31 190.75 L193.21 191.16 L194.11 191.56 L195.02 191.95 L195.92 192.33 L196.82 192.71 L197.73 193.09 L198.63 193.46 L199.53 193.84 L200.43 194.2 L201.34 194.56 L202.24 194.91 L203.14 195.25 L204.05 195.58 L204.95 195.9 L205.85 196.2 L206.76 196.49 L207.66 196.77 L208.56 197.04 L209.46 197.31 L210.37 197.57 L211.27 197.83 L212.17 198.09 L213.08 198.35 L213.98 198.61 L214.88 198.86 L215.79 199.11 L216.69 199.36 L217.59 199.59 L218.49 199.82 L219.4 200.05 L220.3 200.26 L221.2 200.46 L222.11 200.66 L223.01 200.85 L223.91 201.02 L224.82 201.2 L225.72 201.36 L226.62 201.52 L227.53 201.67 L228.43 201.81 L229.33 201.95 L230.23 202.08 L231.14 202.2 L232.04 202.32 L232.94 202.43 L233.85 202.54 L234.75 202.64 L235.65 202.74 L236.56 202.83 L237.46 202.92 L238.36 203 L239.26 203.08 L240.17 203.16 L241.07 203.23 L241.97 203.3 L242.88 203.37 L243.78 203.43 L244.68 203.49 L245.59 203.55 L246.49 203.6 L247.39 203.65 L248.29 203.7 L249.2 203.75 L250.1 203.8 L251 203.85 L251.91 203.9 L252.81 203.94 L253.71 203.99 L254.62 204.03 L255.52 204.07 L256.42 204.12 L257.32 204.16 L258.23 204.2 L259.13 204.24 L260.03 204.28 L260.94 204.32 L261.84 204.36 L262.74 204.4 L263.65 204.43 L264.55 204.47 L265.45 204.51 L266.35 204.54 L267.26 204.58 L268.16 204.61 L269.06 204.65 L269.97 204.68 L270.87 204.71 L271.77 204.75 L272.68 204.78 L273.58 204.81 L274.48 204.84 L275.38 204.87 L276.29 204.9 L277.19 204.93 L278.09 204.96 L279 204.99 L279.9 205.01 L280.8 205.04 L281.71 205.07 L282.61 205.09 L283.51 205.12 L284.41 205.15 L285.32 205.17 L286.22 205.19 L287.12 205.22 L288.03 205.24 L288.93 205.26 L289.83 205.29 L290.74 205.31 L291.64 205.33 L292.54 205.35 L293.44 205.37 L294.35 205.39 L295.25 205.41 L296.15 205.43 L297.06 205.45 L297.96 205.47 L298.86 205.49 L299.77 205.5 L300.67 205.52 L301.57 205.54 L302.47 205.56 L303.38 205.57 L304.28 205.59 L305.18 205.6 L306.09 205.62 L306.99 205.63 L307.89 205.65 L308.8 205.66 L309.7 205.68 L310.6 205.69 L311.51 205.7 L312.41 205.71 L313.31 205.73 L314.21 205.74 L315.12 205.75 L316.02 205.76 L316.92 205.77 L317.83 205.78 L318.73 205.79 L319.63 205.8 L320.54 205.81 L321.44 205.82 L322.34 205.83 L323.24 205.84 L324.15 205.85 L325.05 205.86 L325.95 205.87 L326.86 205.87 L327.76 205.88 L328.66 205.89 L329.57 205.9 L330.47 205.9 L331.37 205.91 L332.27 205.92 L333.18 205.92 L334.08 205.93 L334.98 205.93 L335.89 205.94 L336.79 205.94 L337.69 205.95 L338.6 205.95 L339.5 205.96 L340.4 205.96 L341.3 205.96 L342.21 205.97 L343.11 205.97 L344.01 205.98 L344.92 205.98 L345.82 205.98 L346.72 205.98 L347.63 205.99 L348.53 205.99 L349.43 205.99 L350.33 205.99 L351.24 205.99 L352.14 205.99 L353.04 206 L353.95 206 L354.85 206 L355.75 206 L356.66 206 L357.56 206 L358.46 206 L359.36 206 L360.27 206 L361.17 206 L362.07 206 L362.98 206 L363.88 206 L364.78 206 L365.69 206 L366.59 206 L367.49 205.99 L368.39 205.99 L369.3 205.99 L370.2 205.99 L371.1 205.99 L372.01 205.99 L372.91 205.99 L373.81 205.98 L374.72 205.98 L375.62 205.98 L376.52 205.98 L377.42 205.97 L378.33 205.97 L379.23 205.97 L380.13 205.97 L381.04 205.97 L381.94 205.96 L382.84 205.96 L383.75 205.96 L384.65 205.95 L385.55 205.95 L386.45 205.95 L387.36 205.95 L388.26 205.94 L389.16 205.94 L390.07 205.94 L390.97 205.93 L391.87 205.93 L392.78 205.93 L393.68 205.92 L394.58 205.92 L395.48 205.92 L396.39 205.91 L397.29 205.91 L398.19 205.91 L399.1 205.9 L400 205.9" stroke="#e31a1c" stroke-width="2.1" stroke-linejoin="round"/>
</g>
<path d="M47.32 209.6 V203.6 M66.14 209.6 V203.6 M84.96 209.6 V203.6 M103.78 209.6 V203.6 M122.6 209.6 V197.6 M141.42 209.6 V203.6 M160.24 209.6 V203.6 M179.06 209.6 V203.6 M197.88 209.6 V203.6 M216.7 209.6 V197.6 M235.52 209.6 V203.6 M254.34 209.6 V203.6 M273.16 209.6 V203.6 M291.98 209.6 V203.6 M310.8 209.6 V197.6 M329.62 209.6 V203.6 M348.44 209.6 V203.6 M367.26 209.6 V203.6 M386.08 209.6 V203.6 M404.9 209.6 V197.6 M47.32 16.2 V28.2 M66.14 16.2 V28.2 M122.6 16.2 V28.2 M216.7 16.2 V28.2 M404.9 16.2 V28.2 M46 209.7 H58 M413.6 209.7 H401.6 M46 193.48 H52 M413.6 193.48 H407.6 M46 177.26 H58 M413.6 177.26 H401.6 M46 161.04 H52 M413.6 161.04 H407.6 M46 144.82 H58 M413.6 144.82 H401.6 M46 128.6 H52 M413.6 128.6 H407.6 M46 112.38 H58 M413.6 112.38 H401.6 M46 96.16 H52 M413.6 96.16 H407.6 M46 79.94 H58 M413.6 79.94 H401.6 M46 63.72 H52 M413.6 63.72 H407.6 M46 47.5 H58 M413.6 47.5 H401.6 M46 31.28 H52 M413.6 31.28 H407.6" stroke="#000" stroke-width="1.3" fill="none"/>
<rect x="46" y="16.2" width="367.6" height="193.4" fill="none" stroke="#000" stroke-width="1.45"/>
<g font-family="'Liberation Serif', serif" font-size="15.4" fill="#000" stroke="#000" stroke-width="0.13">
<text x="39" y="215.7" text-anchor="end">1.5</text>
<text x="39" y="183.26" text-anchor="end">1.6</text>
<text x="39" y="150.82" text-anchor="end">1.7</text>
<text x="39" y="118.38" text-anchor="end">1.8</text>
<text x="39" y="85.94" text-anchor="end">1.9</text>
<text x="39" y="53.5" text-anchor="end">2.0</text>
<text x="122.6" y="225.5" text-anchor="middle">0.05</text>
<text x="216.7" y="225.5" text-anchor="middle">0.10</text>
<text x="310.8" y="225.5" text-anchor="middle">0.15</text>
<text x="404.9" y="225.5" text-anchor="middle">0.2</text>
<text x="44.4" y="10.5" text-anchor="middle">100</text>
<text x="68.4" y="10.5" text-anchor="middle">50</text>
<text x="122.6" y="10.5" text-anchor="middle">20</text>
<text x="216.7" y="10.5" text-anchor="middle">10</text>
<text x="403.9" y="10.5" text-anchor="middle">5 K</text>
<text x="200.6" y="241.6" textLength="57.6">1/<tspan font-style="italic">T</tspan> (1/K)</text>
<text transform="translate(11.5 164.6) rotate(-90)" font-size="15.4" textLength="42">Decay</text>
<text transform="translate(11.5 118.9) rotate(-90)" font-size="15.4">time</text>
<text transform="translate(11.5 86.9) rotate(-90)" font-size="15.4">(ns)</text>
<text x="177.8" y="47" textLength="121">Thermal activation:</text>
<text x="320.6" y="38.4" textLength="41.5">5 meV</text>
<text x="313.2" y="57.3" textLength="48.8">15 meV</text>
<text x="289" y="76.5" textLength="71.4">Experiment</text>
<text x="231.6" y="98.4" textLength="128.4">Rate-equation model</text>
<text x="187.9" y="115.7" textLength="133.8">Rate-equation model,</text>
<text x="324.5" y="115.7">&lt;</text>
<path d="M334.4 115.8L343 104.9L342 115.8Z M335.8 115L341.2 108.1L340.57 115Z" fill="#000" fill-rule="evenodd"/>
<text x="343.1" y="118.8" font-size="9.8" stroke="none">ee</text>
<text x="352" y="115.7">&gt;</text>
</g>
<path d="M372.8 34.2H398" stroke="#33a02c" stroke-width="1.65" stroke-dasharray="2.45 3.5" stroke-linecap="round" fill="none"/>
<path d="M372.8 52.9H398" stroke="#1f78b4" stroke-width="1.65" stroke-dasharray="2.45 3.5" stroke-linecap="round" fill="none"/>
<path d="M373 71.2H397.7 M373 66.5V75.9 M397.7 66.5V75.9" stroke="#000" stroke-width="1.45" fill="none"/>
<circle cx="385.4" cy="71.2" r="2.6" fill="#000"/>
<path d="M372 94.6H398.4" stroke="#e31a1c" stroke-width="2" fill="none"/>
<path d="M372 111.8H398.4" stroke="#fb9a99" stroke-width="2" fill="none"/>
</svg>
</body></html>
